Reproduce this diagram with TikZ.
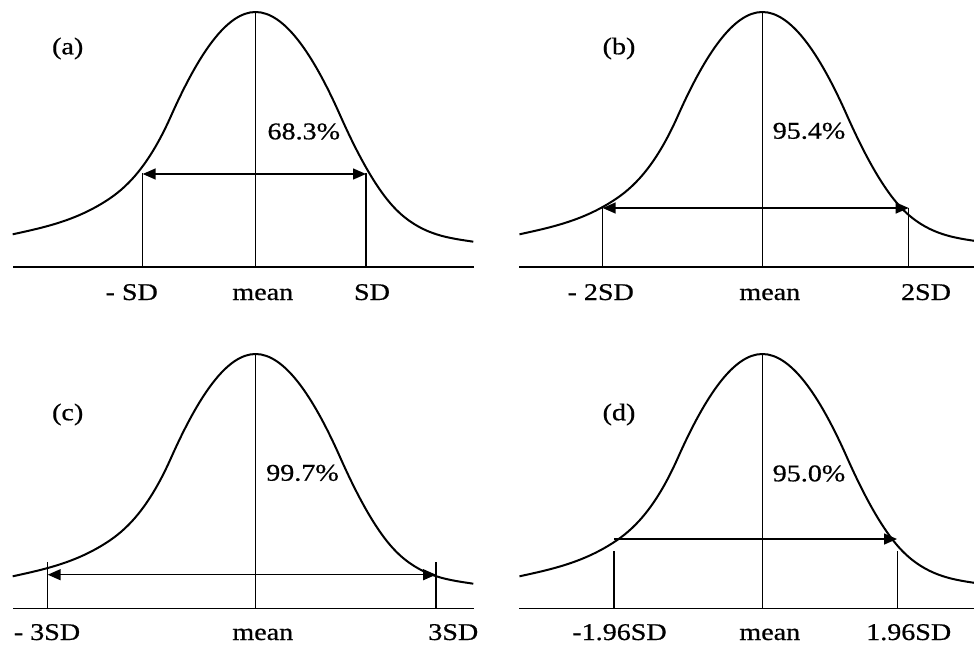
\documentclass[tikz,border=0pt]{standalone}
\usepackage{fontspec}
\setmainfont{Liberation Serif}
\newfontfamily\lblfont{Liberation Serif}[FakeBold=0.6]
\usetikzlibrary{arrows.meta}
\newcommand\wtxt[1]{\scalebox{1.17}[1]{#1}}
\newcommand\bellcurve[2]{%
  \draw[bell,shift={(#1,#2)}] (12.7,234.3)
    .. controls (45.13,227.2) and (77.57,220.35) .. (110,198.3)
    .. controls (130.33,184.5) and (150.67,161.7) .. (171,116)
    .. controls (199.2,52.6) and (227.3,12) .. (255.5,12)
    .. controls (283.67,12) and (311.83,51.6) .. (340,115)
    .. controls (360,160) and (380,195.3) .. (400,213.3)
    .. controls (424.43,235.3) and (448.87,238) .. (473.3,241.7);}
\begin{document}
\begin{tikzpicture}[x=1pt,y=-1pt,
  axis/.style={line width=1.5pt},
  bell/.style={line width=2pt,line join=round},
  tick/.style={line width=1.5pt},
  rngboth/.style={line width=1.5pt,{Triangle[length=13pt,width=11pt]}-{Triangle[length=13pt,width=11pt]}},
  rngone/.style={line width=1.5pt,-{Triangle[length=13pt,width=11pt]}},
  lbl/.style={font=\lblfont\fontsize{24}{28}\selectfont,inner sep=0pt,anchor=base},
  tag/.style={font=\lblfont\fontsize{24}{28}\selectfont,inner sep=0pt,anchor=center},
]
\useasboundingbox (0,0) rectangle (974,648);
\clip (0,0) rectangle (974,648);
\fill[white] (0,0) rectangle (974,648);

% ---------------- panel (a)
\bellcurve{0}{0}
\coordinate (aL) at (13,267); \coordinate (aR) at (474,267);
\draw[axis] (aL) -- (aR);
\coordinate (amT) at (255.5,12); \coordinate (amB) at (255.5,267);
\draw[tick] (amT) -- (amB);
\coordinate (a1T) at (142.7,173); \coordinate (a1B) at (142.7,267);
\coordinate (a2T) at (366,173); \coordinate (a2B) at (366,267);
\draw[tick] (a1T) -- (a1B);
\draw[tick] (a2T) -- (a2B);
\coordinate (aA1) at (142.7,174); \coordinate (aA2) at (366,174);
\draw[rngboth] (aA1) -- (aA2);
\node[tag] (atag) at (67.7,48.5) {\wtxt{(a)}};
\node[lbl] (apct) at (303.8,139.3) {\wtxt{68.3\%}};
\node[lbl] (al1) at (131.7,300) {\wtxt{- SD}};
\node[lbl] (al2) at (262.8,300) {\wtxt{mean}};
\node[lbl] (al3) at (372,300) {\wtxt{SD}};

% ---------------- panel (b)
\bellcurve{506.8}{0}
\coordinate (bL) at (519,267); \coordinate (bR) at (974,267);
\draw[axis] (bL) -- (bR);
\coordinate (bmT) at (762.3,12); \coordinate (bmB) at (762.3,267);
\draw[tick] (bmT) -- (bmB);
\coordinate (b1T) at (602.7,208); \coordinate (b1B) at (602.7,267);
\coordinate (b2T) at (908.7,208); \coordinate (b2B) at (908.7,267);
\draw[tick] (b1T) -- (b1B);
\draw[tick] (b2T) -- (b2B);
\draw[rngboth] (b1T) -- (b2T);
\node[tag] (btag) at (619,48.5) {\wtxt{(b)}};
\node[lbl] (bpct) at (809,138.7) {\wtxt{95.4\%}};
\node[lbl] (bl1) at (600.7,300) {\wtxt{- 2SD}};
\node[lbl] (bl2) at (769.8,300) {\wtxt{mean}};
\node[lbl] (bl3) at (926,300) {\wtxt{2SD}};

% ---------------- panel (c)
\bellcurve{0}{342}
\coordinate (cL) at (13,608.3); \coordinate (cR) at (474,608.3);
\draw[axis] (cL) -- (cR);
\coordinate (cmT) at (255.5,354); \coordinate (cmB) at (255.5,608.3);
\draw[tick] (cmT) -- (cmB);
\coordinate (c1T) at (47.7,562); \coordinate (c1B) at (47.7,608.3);
\coordinate (c2T) at (436,562); \coordinate (c2B) at (436,608.3);
\draw[tick] (c1T) -- (c1B);
\draw[tick] (c2T) -- (c2B);
\coordinate (cA1) at (47.7,574.7); \coordinate (cA2) at (436,574.7);
\draw[rngboth] (cA1) -- (cA2);
\node[tag] (ctag) at (67.7,414.5) {\wtxt{(c)}};
\node[lbl] (cpct) at (302.5,480.7) {\wtxt{99.7\%}};
\node[lbl] (cl1) at (47,640) {\wtxt{- 3SD}};
\node[lbl] (cl2) at (262.8,640) {\wtxt{mean}};
\node[lbl] (cl3) at (453.3,640) {\wtxt{3SD}};

% ---------------- panel (d)
\bellcurve{506.8}{342}
\coordinate (dL) at (519,608.3); \coordinate (dR) at (974,608.3);
\draw[axis] (dL) -- (dR);
\coordinate (dmT) at (762.3,355); \coordinate (dmB) at (762.3,608.3);
\draw[tick] (dmT) -- (dmB);
\coordinate (d1T) at (614,551); \coordinate (d1B) at (614,608.3);
\coordinate (d2T) at (897.7,551); \coordinate (d2B) at (897.7,608.3);
\draw[tick] (d1T) -- (d1B);
\draw[tick] (d2T) -- (d2B);
\coordinate (dA1) at (614,539); \coordinate (dA2) at (897,539);
\draw[rngone] (dA1) -- (dA2);
\node[tag] (dtag) at (619,414.5) {\wtxt{(d)}};
\node[lbl] (dpct) at (809,481.3) {\wtxt{95.0\%}};
\node[lbl] (dl1) at (619.5,640) {\wtxt{-1.96SD}};
\node[lbl] (dl2) at (769.8,640) {\wtxt{mean}};
\node[lbl] (dl3) at (908.7,640) {\wtxt{1.96SD}};
\end{tikzpicture}
\end{document}
